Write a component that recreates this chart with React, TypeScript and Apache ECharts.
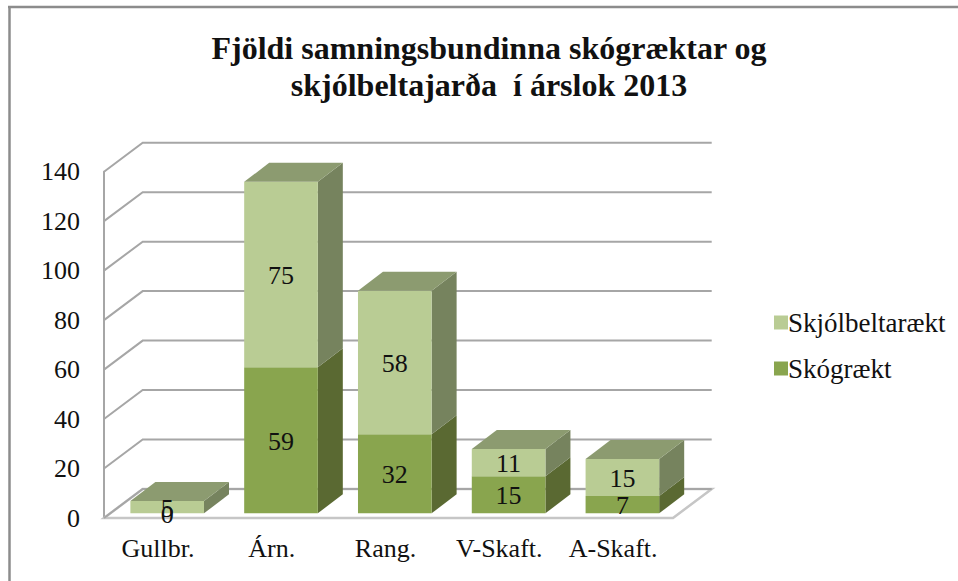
import React, { useEffect, useRef } from "react";
import * as echarts from "echarts";

const categories = ["Gullbr.", "Árn.", "Rang.", "V-Skaft.", "A-Skaft."];
const skograekt = [0, 59, 32, 15, 7];
const skjolbelti = [5, 75, 58, 11, 15];
const tickValues = [0, 20, 40, 60, 80, 100, 120, 140];

const LIGHT = { front: "#B9CC94", side: "#76835E", top: "#8C9B70" };
const DARK = { front: "#89A54E", side: "#5A6932", top: "#6E8040" };
const WALL_DX = 38.7;
const WALL_DY = -29;
const BAR_DX = 6.3;
const BAR_DY = -4.7;
const BOX_DX = 25;
const BOX_DY = -19;
const FONT = "'Liberation Serif', 'Times New Roman', serif";
const GREY = "#A6A6A6";

function barItem(colors: typeof LIGHT, hasTop: boolean) {
  return (params: any, api: any) => {
    const idx = api.value(0);
    const base = api.value(1);
    const val = api.value(2);
    const w = api.size([1, 0])[0] * 0.647;
    const [cx, y0] = api.coord([idx, base]);
    const [, y1] = api.coord([idx, base + val]);
    const l = cx - w / 2 + BAR_DX;
    const r = l + w;
    const b = y0 + BAR_DY;
    const t = y1 + BAR_DY;
    const children: any[] = [
      { type: "polygon", shape: { points: [[r, b], [r + BOX_DX, b + BOX_DY], [r + BOX_DX, t + BOX_DY], [r, t]] }, style: { fill: colors.side } },
      { type: "rect", shape: { x: l, y: t, width: w, height: b - t }, style: { fill: colors.front } },
    ];
    if (hasTop) {
      children.push({ type: "polygon", shape: { points: [[l, t], [r, t], [r + BOX_DX, t + BOX_DY], [l + BOX_DX, t + BOX_DY]] }, style: { fill: colors.top } });
    }
    return { type: "group", children };
  };
}

function labelItem(params: any, api: any) {
  const idx = api.value(0);
  const base = api.value(1);
  const val = api.value(2);
  const [cx, y0] = api.coord([idx, base]);
  const [, y1] = api.coord([idx, base + val]);
  return {
    type: "text",
    z2: 100,
    style: {
      x: cx + BAR_DX,
      y: (y0 + y1) / 2 + BAR_DY + 1,
      text: String(val),
      fill: "#111",
      font: `26px ${FONT}`,
      align: "center",
      verticalAlign: "middle",
    },
  };
}

function wallItem(params: any, api: any) {
  const v = api.value(0);
  const cs = params.coordSys;
  const [, y] = api.coord([0, v]);
  const left = cs.x;
  const right = cs.x + cs.width;
  const children: any[] = [];
  if (v === 0) {
    children.push({
      type: "polygon",
      shape: { points: [[left, y], [right, y], [right + WALL_DX, y + WALL_DY], [left + WALL_DX, y + WALL_DY]] },
      style: { fill: "#fff", stroke: "#C6C6C6", lineWidth: 2.5 },
    });
  }
  children.push({
    type: "polyline",
    shape: { points: [[left, y], [left + WALL_DX, y + WALL_DY], [right + WALL_DX, y + WALL_DY]] },
    style: { fill: "none", stroke: GREY, lineWidth: 2 },
  });
  return { type: "group", children };
}

export default function App() {
  const ref = useRef<HTMLDivElement>(null);
  useEffect(() => {
    const chart = echarts.init(ref.current!, null, { renderer: "svg" });
    const stackedBase = skograekt;
    chart.setOption({
      animation: false,
      backgroundColor: "#fff",
      title: {
        text: "Fjöldi samningsbundinna skógræktar og\nskjólbeltajarða  í árslok 2013",
        left: 484,
        top: 24,
        textAlign: "center",
        textStyle: { fontFamily: FONT, fontWeight: "bold", fontSize: 32, lineHeight: 37, color: "#111" },
      },
      legend: {
        left: 769,
        top: 304,
        orient: "vertical",
        itemWidth: 14,
        itemHeight: 14,
        itemGap: 19,
        icon: "rect",
        data: ["Skjólbeltarækt", "Skógrækt"],
        textStyle: { fontFamily: FONT, fontSize: 27, color: "#111", padding: [0, 0, 0, -5] },
      },
      grid: { left: 104, right: 285, top: 171.7, bottom: 63 },
      xAxis: {
        type: "category",
        data: categories,
        axisLine: { show: false },
        axisTick: { show: false },
        axisLabel: { interval: 0, fontFamily: FONT, fontSize: 26, color: "#111", margin: 17, padding: [0, 6, 0, 0] },
      },
      yAxis: {
        type: "value",
        min: 0,
        max: 140,
        interval: 20,
        axisLine: { show: true, lineStyle: { color: GREY, width: 2 } },
        axisTick: { show: false },
        splitLine: { show: false },
        axisLabel: { fontFamily: FONT, fontSize: 26, color: "#111", margin: 24, padding: [3, 0, 0, 0] },
      },
      graphic: [
        { type: "line", silent: true, shape: { x1: 8, y1: 7, x2: 958, y2: 7 }, style: { stroke: "#8C8C8C", lineWidth: 2.5 } },
        { type: "line", silent: true, shape: { x1: 9.5, y1: 7, x2: 9.5, y2: 581 }, style: { stroke: "#8C8C8C", lineWidth: 2.5 } },
      ],
      series: [
        {
          type: "custom",
          name: "wall",
          z: 1,
          silent: true,
          renderItem: wallItem,
          encode: { y: 0 },
          data: tickValues.map((v) => [v]),
        },
        {
          type: "custom",
          name: "Skógrækt",
          z: 2,
          itemStyle: { color: DARK.front },
          renderItem: barItem(DARK, false),
          encode: { x: 0, y: [1, 2] },
          data: categories.map((_, i) => [i, 0, skograekt[i]]),
        },
        {
          type: "custom",
          name: "Skjólbeltarækt",
          z: 3,
          itemStyle: { color: LIGHT.front },
          renderItem: barItem(LIGHT, true),
          encode: { x: 0, y: [1, 2] },
          data: categories.map((_, i) => [i, stackedBase[i], skjolbelti[i]]),
        },
        {
          type: "custom",
          name: "labels",
          z: 4,
          silent: true,
          renderItem: labelItem,
          encode: { x: 0, y: [1, 2] },
          data: categories.flatMap((_, i) => [
            [i, 0, skograekt[i]],
            [i, skograekt[i], skjolbelti[i]],
          ]),
        },
      ],
    });
    return () => chart.dispose();
  }, []);
  return <div ref={ref} style={{ position: "fixed", left: 0, top: 0, width: 958, height: 581 }} />;
}
